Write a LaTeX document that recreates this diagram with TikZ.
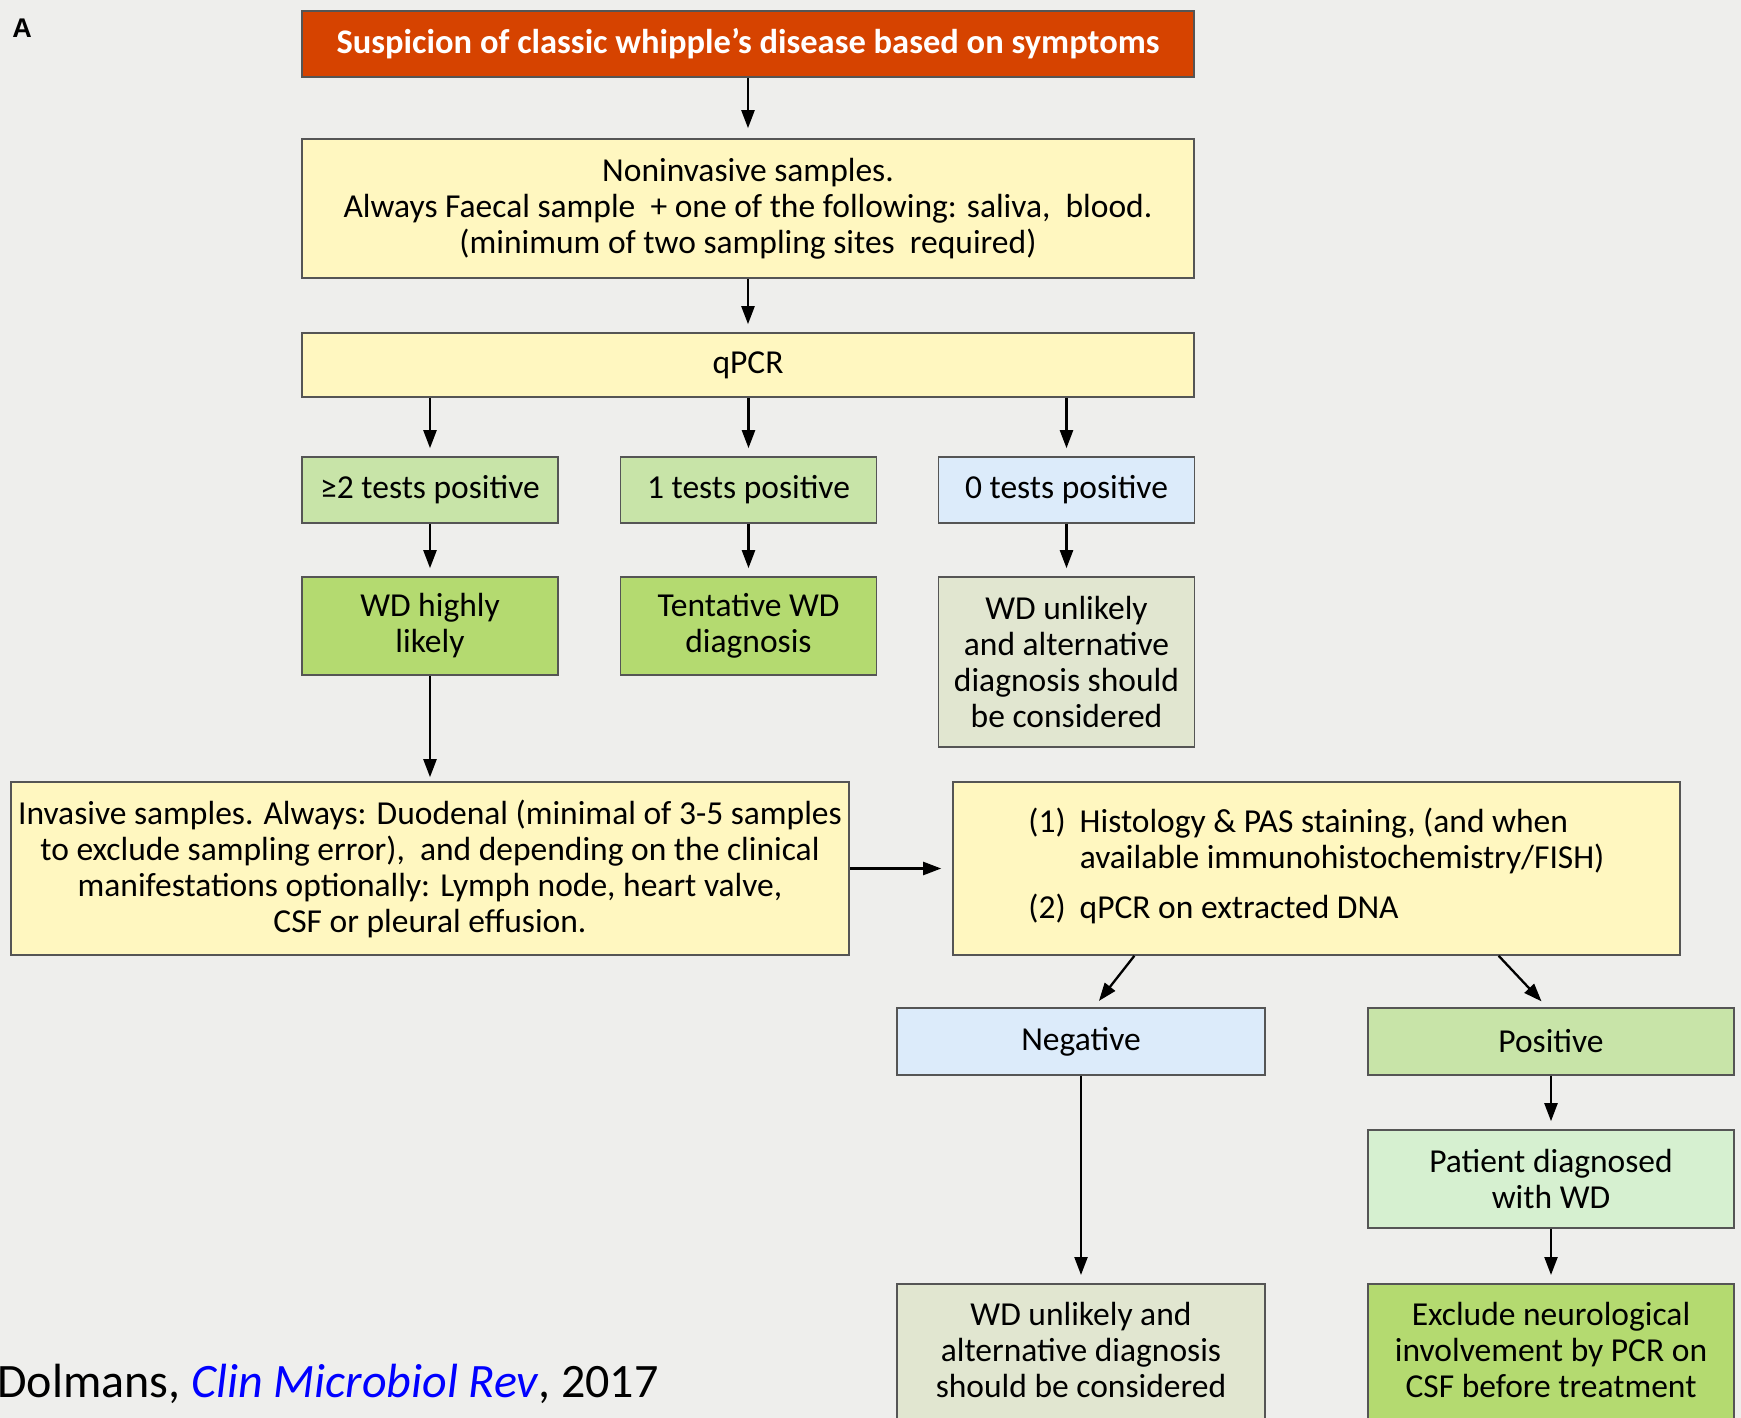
\documentclass[tikz,border=0pt]{standalone}
\usepackage{fontspec}
\setmainfont{Carlito}
\newfontfamily\panelfont{Liberation Sans}
\usetikzlibrary{arrows.meta,calc}
\definecolor{bg}{RGB}{238,238,236}
\definecolor{redbox}{RGB}{214,67,0}
\definecolor{yellowbox}{RGB}{255,247,192}
\definecolor{lightgreen}{RGB}{200,228,168}
\definecolor{midgreen}{RGB}{180,218,112}
\definecolor{lightblue}{RGB}{220,235,250}
\definecolor{greygreen}{RGB}{225,230,208}
\definecolor{mint}{RGB}{214,240,208}
\definecolor{edge}{RGB}{85,85,85}
\definecolor{citeblue}{RGB}{0,0,255}
\begin{document}
\begin{tikzpicture}[x=1pt,y=-1pt,
  box/.style={draw=edge,line width=1.6pt,inner sep=0pt,align=center,font=\fontsize{33.5}{36}\selectfont},
  arr/.style={line width=2.3pt,-{Triangle[length=18pt,width=13pt]},shorten >=8pt}]
\fill[bg] (0,0) rectangle (1741,1418);
\useasboundingbox (0,0) rectangle (1741,1418);
\clip (0,0) rectangle (1741,1418);

\node[font=\panelfont\bfseries\fontsize{27}{30}\selectfont] (panel) at (22,28) {A};

\node[box,fill=redbox,text=white,font=\bfseries\fontsize{34.5}{38}\selectfont,minimum width=892pt,minimum height=66pt] (susp) at (748,44) {Suspicion of classic whipple’s disease based on symptoms};
\node[box,fill=yellowbox,minimum width=892pt,minimum height=139pt] (noninv) at (748,208.5) {Noninvasive samples.\\Always Faecal sample \ + one of the following: saliva, \ blood.\\(minimum of two sampling sites \ required)};
\node[box,fill=yellowbox,minimum width=892pt,minimum height=64pt] (qpcr) at (748,365) {qPCR};

\node[box,fill=lightgreen,minimum width=256pt,minimum height=66pt] (pos2) at (430,490) {≥2 tests positive};
\node[box,fill=lightgreen,minimum width=256pt,minimum height=66pt] (pos1) at (748.5,490) {1 tests positive};
\node[box,fill=lightblue,minimum width=256pt,minimum height=66pt] (pos0) at (1066.5,490) {0 tests positive};

\node[box,fill=midgreen,minimum width=256pt,minimum height=98pt] (likely) at (430,626) {WD highly\\likely};
\node[box,fill=midgreen,minimum width=256pt,minimum height=98pt] (tentative) at (748.5,626) {Tentative WD\\diagnosis};
\node[box,fill=greygreen,minimum width=256pt,minimum height=170pt] (unlikely) at (1066.5,662) {WD unlikely\\and alternative\\diagnosis should\\be considered};

\node[box,fill=yellowbox,minimum width=838pt,minimum height=173pt] (invasive) at (430,868.5) {Invasive samples. Always: Duodenal (minimal of 3-5 samples\\to exclude sampling error), \ and depending on the clinical\\manifestations optionally: Lymph node, heart valve,\\CSF or pleural effusion.};
\node[box,fill=yellowbox,minimum width=727pt,minimum height=173pt] (histo) at (1316.5,868.5) {%
  \begin{tabular}{@{}l@{\hspace{14pt}}l@{}}
  (1) & Histology \& PAS staining, (and when\\
      & available immunohistochemistry/FISH)\\[14pt]
  (2) & qPCR on extracted DNA
  \end{tabular}};

\node[box,fill=lightblue,minimum width=368pt,minimum height=67pt] (neg) at (1081,1041.5) {Negative};
\node[box,fill=lightgreen,minimum width=366pt,minimum height=67pt] (posv) at (1551,1041.5) {Positive};
\node[box,fill=mint,minimum width=366pt,minimum height=98pt] (patient) at (1551,1179) {Patient diagnosed\\with WD};

\node[box,fill=greygreen,anchor=north,minimum width=368pt,inner ysep=18pt,text depth=80pt] (unlikely2) at (1081,1283) {WD unlikely and\\alternative diagnosis\\should be considered};
\node[box,fill=midgreen,anchor=north,minimum width=366pt,inner ysep=18pt,text depth=80pt] (exclude) at (1551,1283) {Exclude neurological\\involvement by PCR on\\CSF before treatment};

\node[anchor=base west,inner sep=0pt,font=\fontsize{48}{54}\selectfont] (cite) at (-3,1397) {Dolmans, {\color{citeblue}\itshape Clin Microbiol Rev}, 2017};

\draw[arr,shorten >=10pt] (susp) -- (noninv);
\draw[arr] (noninv) -- (qpcr);
\foreach \n in {pos2,pos1,pos0}
  \draw[arr] (qpcr.south -| \n.north) -- (\n);
\draw[arr] (pos2) -- (likely);
\draw[arr] (pos1) -- (tentative);
\draw[arr] (pos0) -- (unlikely);
\draw[arr,shorten >=4pt] (likely) -- (invasive);
\draw[arr,shorten >=11pt] (invasive) -- (histo);
\draw[arr] ($(histo.south west)!.25!(histo.south east)$) -- ($(neg.north)+(13,0)$);
\draw[arr] ($(histo.south west)!.75!(histo.south east)$) -- ($(posv.north)+(-4,0)$);
\draw[arr] (neg) -- (unlikely2);
\draw[arr] (posv) -- (patient);
\draw[arr] (patient) -- (exclude);
\end{tikzpicture}
\end{document}
